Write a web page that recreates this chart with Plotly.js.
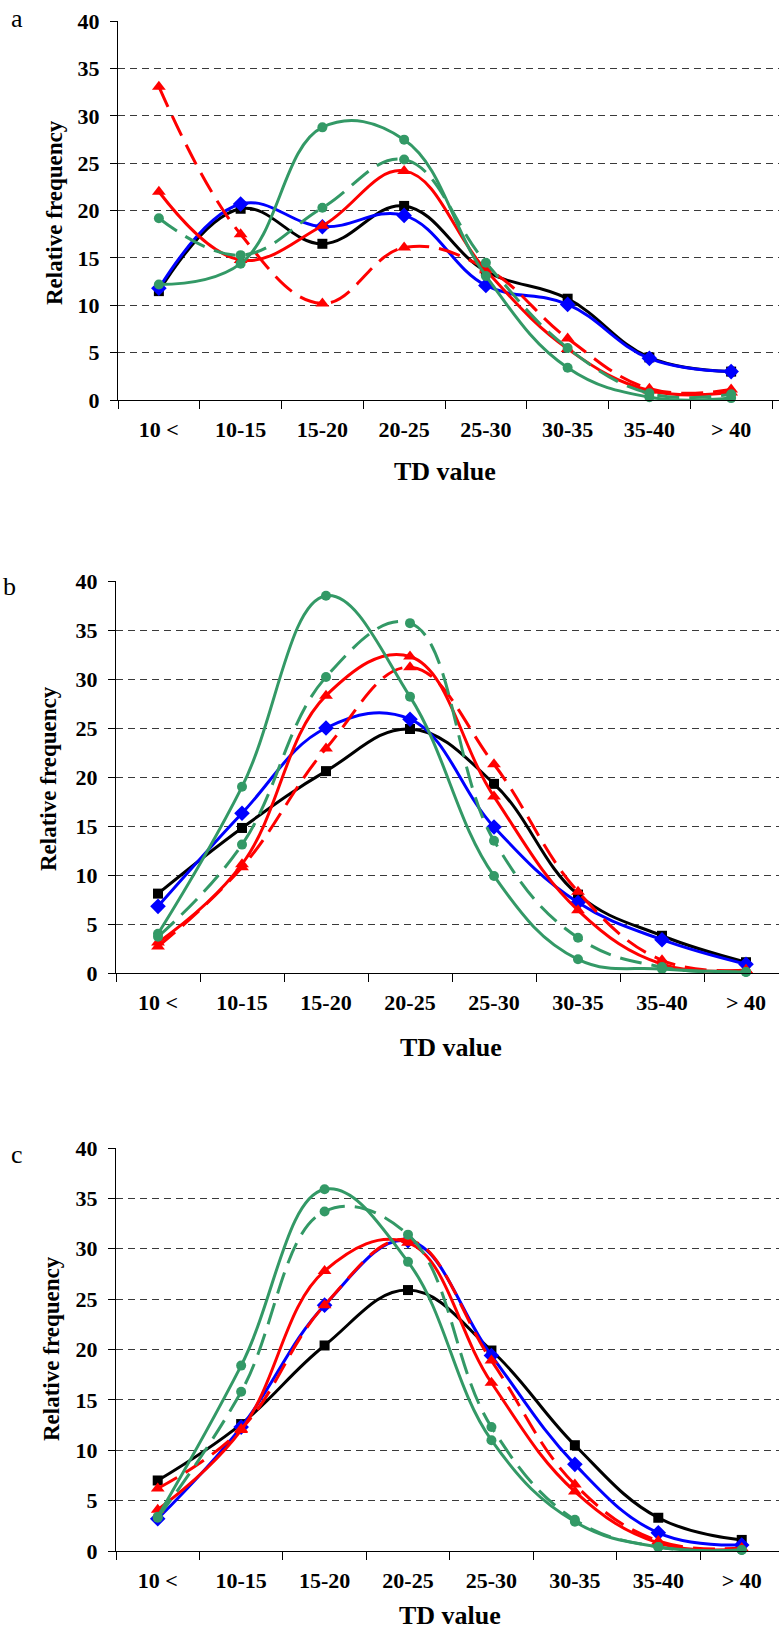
<!DOCTYPE html>
<html>
<head>
<meta charset="utf-8">
<script src="https://cdn.plot.ly/plotly-3.0.1.min.js"></script>
<style>
  html, body { margin: 0; padding: 0; background: #fff; }
  #chart { width: 779px; height: 1633px; }
</style>
</head>
<body>
<div id="chart"></div>
<script>
// ---------- data ----------
const categories = ['10 <', '10-15', '15-20', '20-25', '25-30', '30-35', '35-40', '> 40'];

// panel a
const a_black     = [11.5, 20.2, 16.5, 20.5, 13.6, 10.7, 4.5, 3.0];
const a_blue      = [11.8, 20.7, 18.3, 19.5, 12.1, 10.1, 4.4, 3.0];
const a_red       = [22.0, 14.8, 18.4, 24.2, 13.7, 5.4, 1.0, 0.8];
const a_redDash   = [33.1, 17.5, 10.2, 16.1, 13.9, 6.5, 1.2, 1.1];
const a_green     = [12.2, 14.4, 28.8, 27.5, 13.1, 3.4, 0.3, 0.2];
const a_greenDash = [19.2, 15.3, 20.3, 25.4, 14.5, 5.5, 0.7, 0.6];

// panel b
const b_black     = [8.1, 14.8, 20.6, 24.9, 19.3, 8.0, 3.8, 1.1];
const b_blue      = [6.8, 16.3, 25.0, 25.9, 14.9, 7.2, 3.4, 0.9];
const b_red       = [3.1, 11.1, 28.3, 32.3, 18.0, 6.4, 0.9, 0.3];
const b_redDash   = [2.7, 10.8, 22.9, 31.2, 21.3, 8.3, 1.3, 0.3];
const b_green     = [4.0, 19.0, 38.5, 28.2, 9.9, 1.4, 0.4, 0.1];
const b_greenDash = [3.7, 13.1, 30.2, 35.7, 13.5, 3.6, 0.6, 0.1];

// panel c
const c_black     = [7.0, 12.6, 20.4, 25.9, 19.9, 10.5, 3.3, 1.1];
const c_blue      = [3.2, 12.3, 24.4, 30.8, 19.4, 8.6, 1.8, 0.6];
const c_red       = [4.1, 12.0, 27.8, 30.6, 16.7, 5.9, 0.8, 0.2];
const c_redDash   = [6.2, 12.1, 24.4, 30.9, 18.9, 6.6, 1.0, 0.3];
const c_green     = [3.4, 18.4, 35.9, 28.7, 11.0, 2.9, 0.4, 0.1];
const c_greenDash = [3.3, 15.8, 33.7, 31.4, 12.3, 3.1, 0.4, 0.1];

const yTickVals = [0, 5, 10, 15, 20, 25, 30, 35, 40];

// ---------- styling ----------
const W = 779, H = 1633;
const FONT = '"Liberation Serif", "Times New Roman", serif';
const BLACK = '#000000', BLUE = '#0000FF', RED = '#FF0000', GREEN = '#339966';
const DASH = '22px,10px';

function series(y, color, dash, symbol, size, xa, ya) {
  return {
    type: 'scatter', mode: 'lines+markers',
    x: categories, y: y, xaxis: xa, yaxis: ya,
    line: { color: color, width: 3, shape: 'spline', smoothing: 1.15, dash: dash },
    marker: { symbol: symbol, size: size, color: color },
    cliponaxis: false, showlegend: false, hoverinfo: 'skip'
  };
}

function panelTraces(d, xa, ya) {
  return [
    series(d[0], BLACK, 'solid', 'square', 10, xa, ya),
    series(d[1], BLUE, 'solid', 'diamond', 12, xa, ya),
    series(d[2], RED, 'solid', 'triangle-up', 12, xa, ya),
    series(d[3], RED, DASH, 'triangle-up', 12, xa, ya),
    series(d[4], GREEN, 'solid', 'circle', 10, xa, ya),
    series(d[5], GREEN, DASH, 'circle', 10, xa, ya)
  ];
}

const data = [].concat(
  panelTraces([a_black, a_blue, a_red, a_redDash, a_green, a_greenDash], 'x', 'y'),
  panelTraces([b_black, b_blue, b_red, b_redDash, b_green, b_greenDash], 'x2', 'y2'),
  panelTraces([c_black, c_blue, c_red, c_redDash, c_green, c_greenDash], 'x3', 'y3')
);

function px(x) { return x / W; }
function py(y) { return 1 - y / H; }

function xAxis(left, spacing, yName) {
  const range = [-0.5, -0.5 + (W - left) / spacing];
  return {
    domain: [px(left), 1], range: range, type: 'category', anchor: yName,
    showline: true, linecolor: '#000', linewidth: 1,
    ticks: 'outside', ticklen: 8, tickcolor: '#000', tickwidth: 1,
    tickson: 'boundaries', showgrid: false, zeroline: false,
    ticklabelstandoff: 10,
    tickfont: { family: FONT, size: 22, color: '#000', weight: 700 },
    fixedrange: true
  };
}

function yAxis(y0, y40, xName) {
  return {
    domain: [py(y0), py(y40)], range: [0, 40], anchor: xName,
    tickvals: yTickVals,
    showline: true, linecolor: '#000', linewidth: 1,
    ticks: 'outside', ticklen: 7, tickcolor: '#000', tickwidth: 1,
    showgrid: true, gridcolor: '#3a3a3a', gridwidth: 1, griddash: '7px,5px',
    zeroline: false, ticklabelstandoff: 6,
    tickfont: { family: FONT, size: 22, color: '#000', weight: 700 },
    fixedrange: true
  };
}

function ann(text, x, y, size, bold, angle) {
  return {
    text: text, xref: 'paper', yref: 'paper', x: px(x), y: py(y),
    xanchor: 'center', yanchor: 'middle', showarrow: false,
    textangle: angle || 0,
    font: { family: FONT, size: size, color: '#000', weight: bold ? 700 : 400 }
  };
}

const layout = {
  width: W, height: H,
  margin: { l: 0, r: 0, t: 0, b: 0, pad: 0 },
  paper_bgcolor: '#fff', plot_bgcolor: '#fff',
  showlegend: false,
  xaxis: xAxis(118, 81.75, 'y'),
  yaxis: yAxis(400, 21.3, 'x'),
  xaxis2: xAxis(116, 84.0, 'y2'),
  yaxis2: yAxis(973, 581, 'x2'),
  xaxis3: xAxis(116, 83.43, 'y3'),
  yaxis3: yAxis(1551, 1148, 'x3'),
  annotations: [
    ann('a', 17, 18, 26, false),
    ann('b', 9, 587, 26, false),
    ann('c', 17, 1154, 26, false),
    ann('Relative frequency', 54, 213, 23, true, -90),
    ann('Relative frequency', 48, 779, 23, true, -90),
    ann('Relative frequency', 51, 1349, 23, true, -90),
    ann('TD value', 445, 471, 26, true),
    ann('TD value', 451, 1047, 26, true),
    ann('TD value', 450, 1615, 26, true)
  ]
};

Plotly.newPlot('chart', data, layout, { staticPlot: true, displayModeBar: false });
</script>
</body>
</html>
